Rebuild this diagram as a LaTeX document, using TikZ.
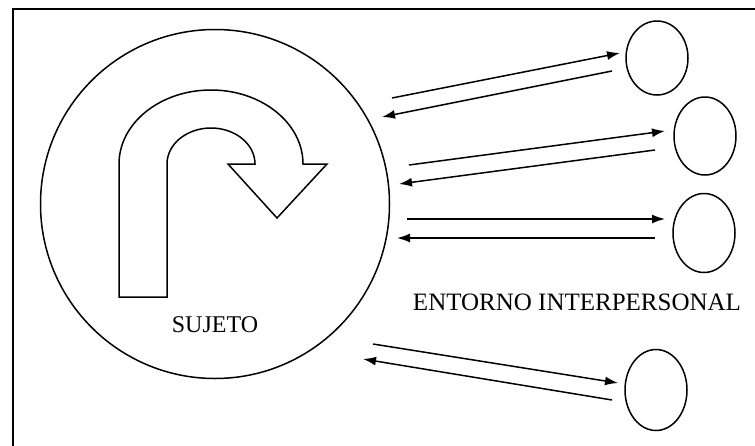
\documentclass[tikz,border=0pt]{standalone}
\usepackage{fontspec}
\setmainfont{Liberation Serif}
\usetikzlibrary{shapes.geometric, arrows.meta, positioning}
\tikzset{
	sujetoshape/.style={draw, circle, minimum size=349pt, inner sep=0pt, line width=1.5pt},
	otro/.style={draw, ellipse, minimum width=62pt, minimum height=78pt, inner sep=0pt, line width=1.5pt},
	rotulo/.style={inner sep=0pt, font=\fontsize{24}{28}\selectfont},
}

\begin{document}
\begin{tikzpicture}[x=1pt, y=1pt]
	\useasboundingbox (0,0) rectangle (755,-445);
	% marco
	\draw[line width=1.5pt] (13,-9) rectangle (775,-470);
	
	\node (sujeto) [sujetoshape] at (215,-204) {};
	\node (sujetotxt) [rotulo] at (215,-325) {SUJETO};
	\node (entorno) [rotulo, font=\fontsize{25}{30}\selectfont] at (577,-302) {ENTORNO INTERPERSONAL};
	
	\node (otro1) [otro, minimum height=74pt] at (657,-58) {};
	\node (otro2) [otro] at (705,-136) {};
	\node (otro3) [otro, minimum height=79pt] at (704,-233) {};
	\node (otro4) [otro, minimum height=81pt] at (656,-390) {};
	
	% giro en U
	\draw[line width=1.5pt, line join=miter] (119,-297) -- (119,-164)
		arc[start angle=180, end angle=0, x radius=92pt, y radius=74pt]
		-- (327,-164) -- (277,-218) -- (228,-164) -- (255,-164)
		arc[start angle=0, end angle=180, x radius=44pt, y radius=36pt]
		-- (167,-297) -- cycle;
	
	% extremos de las flechas
	\coordinate (s1) at (392,-98);  \coordinate (o1) at (620,-53);
	\coordinate (r1) at (612,-71);  \coordinate (t1) at (382,-117);
	\coordinate (s2) at (409,-165); \coordinate (o2) at (665,-131);
	\coordinate (r2) at (655,-150); \coordinate (t2) at (399,-184);
	\coordinate (s3) at (407,-219); \coordinate (o3) at (665,-219);
	\coordinate (r3) at (655,-238); \coordinate (t3) at (397,-238);
	\coordinate (s4) at (373,-344); \coordinate (o4) at (618,-383);
	\coordinate (r4) at (612,-400); \coordinate (t4) at (363,-359);
	
	\begin{scope}[line width=1.5pt, black, -{Latex[length=13pt, width=9pt]}]
		\draw (s1) -- (o1);
		\draw (r1) -- (t1);
		\draw (s2) -- (o2);
		\draw (r2) -- (t2);
		\draw (s3) -- (o3);
		\draw (r3) -- (t3);
		\draw (s4) -- (o4);
		\draw (r4) -- (t4);
	\end{scope}
\end{tikzpicture}
\end{document}
